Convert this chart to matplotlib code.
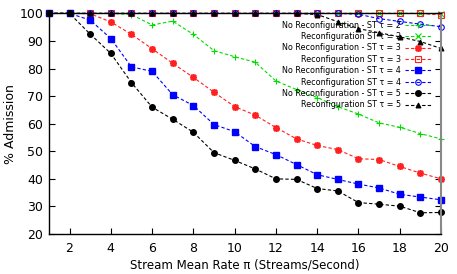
import matplotlib
matplotlib.use("Agg")
import matplotlib.pyplot as plt

x = list(range(1, 21))

nr_t2 = [100, 100, 100, 100, 99.6, 95.8, 97.2, 92.4, 86.5, 84.3, 82.3, 75.5, 72.4, 69.5, 66.2, 63.5, 60.3, 58.7, 56.4, 54.5]
r_t2 = [100] * 19 + [99.8]
nr_t3 = [100, 100, 99.9, 96.9, 92.4, 87.2, 81.9, 76.8, 71.4, 66.2, 63.1, 58.6, 54.5, 52.1, 50.6, 47.3, 47.0, 44.5, 42.1, 40.0]
r_t3 = [100] * 19 + [99.5]
nr_t4 = [100, 100, 97.6, 90.9, 80.6, 79.0, 70.5, 66.6, 59.7, 57.1, 51.7, 48.8, 45.2, 41.5, 39.8, 38.1, 36.7, 34.4, 33.4, 32.4]
r_t4 = [100] * 15 + [99.7, 98.1, 97.1, 96.1, 95.2]
nr_t5 = [100, 100, 92.5, 85.5, 74.9, 66.0, 61.6, 56.9, 49.5, 46.7, 43.6, 40.0, 39.8, 36.5, 35.6, 31.4, 30.8, 30.1, 27.7, 27.8]
r_t5 = [100] * 13 + [99.6, 97.0, 94.5, 93.0, 91.5, 89.8, 87.3]

labels = [
    "No Reconfiguration - ST τ = 2",
    "Reconfiguration ST τ = 2",
    "No Reconfiguration - ST τ = 3",
    "Reconfiguration ST τ = 3",
    "No Reconfiguration - ST τ = 4",
    "Reconfiguration ST τ = 4",
    "No Reconfiguration - ST τ = 5",
    "Reconfiguration ST τ = 5",
]
xticks = list(range(2, 21, 2))
yticks = list(range(20, 101, 10))

fig = plt.figure(figsize=(4.57, 2.74), dpi=100)
ax = fig.add_axes([0.107, 0.146, 0.858, 0.805])

green = "#00dd00"
red = "#ff2020"
blue = "#0000ff"
black = "#000000"
dash = (0, (3, 2))
lw = 0.8

series = [
    (nr_t2, green, "+", dict(markersize=5, markeredgewidth=0.8)),
    (r_t2, green, "x", dict(markersize=4, markeredgewidth=0.8)),
    (nr_t3, red, (8, 2, 0), dict(markersize=5, markeredgewidth=1.2)),
    (r_t3, red, "s", dict(markersize=4.5, markerfacecolor="none", markeredgewidth=0.8)),
    (nr_t4, blue, "s", dict(markersize=4.5)),
    (r_t4, blue, "o", dict(markersize=4, markerfacecolor="none", markeredgewidth=0.8)),
    (nr_t5, black, "o", dict(markersize=4)),
    (r_t5, black, "^", dict(markersize=3.5, markeredgewidth=0.8)),
]
for (vals, c, m, kw), lab in zip(series, labels):
    ax.plot(x, vals, color=c, linestyle=dash, linewidth=lw, marker=m,
            markeredgecolor=c, label=lab, clip_on=False, **kw)

ax.set_xlim(1, 20)
ax.set_ylim(20, 100)
ax.set_xticks(xticks)
ax.set_yticks(yticks)
ax.tick_params(direction="in", labelsize=9, length=4, width=0.8, right=True, top=False)
ax.tick_params(axis="y", pad=4)
ax.tick_params(axis="x", pad=6)
for s in ["left", "bottom", "top"]:
    ax.spines[s].set_color("black")
    ax.spines[s].set_linewidth(1.0)
ax.spines["right"].set_color("#888888")
ax.spines["right"].set_linewidth(1.5)

ax.set_xlabel("Stream Mean Rate π (Streams/Second)", fontsize=8.5, labelpad=2)
ax.set_ylabel("% Admission", fontsize=9, labelpad=2)

leg = ax.legend(loc="upper right", bbox_to_anchor=(0.978, 0.975), frameon=False,
                fontsize=5.8, markerfirst=False, handlelength=3.2, labelspacing=0.3,
                handletextpad=0.5, borderpad=0.2, borderaxespad=0)

fig.savefig("out.png", dpi=100)
